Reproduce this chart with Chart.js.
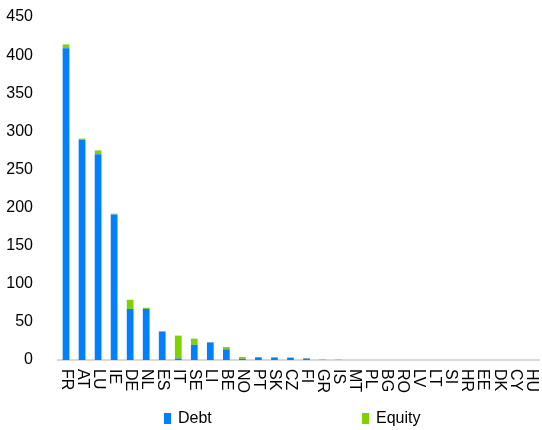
<!DOCTYPE html>
<html>
<head>
<meta charset="utf-8">
<script src="https://cdn.jsdelivr.net/npm/chart.js@4"></script>
<style>
  html, body { margin: 0; padding: 0; background: #fff; }
  #wrap { width: 542px; height: 430px; position: relative; }
</style>
</head>
<body>
<div id="wrap"><canvas id="myChart"></canvas></div>
<script>
// Data
var countries = ['FR', 'AT', 'LU', 'IE', 'DE', 'NL', 'ES', 'IT', 'SE', 'LI', 'BE', 'NO', 'PT', 'SK', 'CZ',
  'FI', 'GR', 'IS', 'MT', 'PL', 'BG', 'RO', 'LV', 'LT', 'SI', 'HR', 'EE', 'DK', 'CY', 'HU'];
var debt = [409, 289, 270, 191, 67, 67, 37, 2, 20, 23, 14, 1.5, 3.5, 3.3, 3, 2, 0.3, 0.2, 0, 0, 0, 0, 0, 0, 0, 0, 0, 0, 0, 0];
var equity = [5, 1.5, 5, 1, 12, 1.5, 1, 30, 8, 0.5, 3, 2.5, 0.4, 0.3, 0.3, 0.5, 0.2, 0.2, 0, 0, 0, 0, 0, 0, 0, 0, 0, 0, 0, 0];
var seriesNames = ['Debt', 'Equity'];
var seriesColors = ['#0080ff', '#7fd100'];

var font = 'Liberation Sans, Arial, sans-serif';

// x labels read top to bottom (rotated clockwise), so draw them ourselves
var xLabels = {
  id: 'xLabels',
  afterDraw: function (chart) {
    var ctx = chart.ctx;
    var xs = chart.scales.x;
    ctx.save();
    ctx.font = '16px ' + font;
    ctx.fillStyle = '#000';
    ctx.textAlign = 'left';
    ctx.textBaseline = 'middle';
    countries.forEach(function (c, i) {
      ctx.save();
      ctx.translate(xs.getPixelForValue(i), xs.top + 9);
      ctx.rotate(Math.PI / 2);
      ctx.fillText(c, 0, 0);
      ctx.restore();
    });
    ctx.restore();
  }
};

// legend spread wide at the bottom
var wideLegend = {
  id: 'wideLegend',
  afterDraw: function (chart) {
    var ctx = chart.ctx;
    var starts = [164, 362];
    var y = 418;
    ctx.save();
    ctx.font = '16px ' + font;
    ctx.textBaseline = 'middle';
    ctx.textAlign = 'left';
    seriesNames.forEach(function (name, i) {
      ctx.fillStyle = seriesColors[i];
      ctx.fillRect(starts[i], y - 5, 7, 11);
      ctx.fillStyle = '#000';
      ctx.fillText(name, starts[i] + 14, y + 1);
    });
    ctx.restore();
  }
};

var ctx = document.getElementById('myChart').getContext('2d');

var myChart = new Chart(ctx, {
  type: 'bar',
  data: {
    labels: countries,
    datasets: [{
      label: seriesNames[0],
      data: debt,
      backgroundColor: seriesColors[0]
    }, {
      label: seriesNames[1],
      data: equity,
      backgroundColor: seriesColors[1]
    }]
  },
  options: {
    responsive: true,
    maintainAspectRatio: false,
    animation: false,
    layout: { padding: { top: 17, right: 3, bottom: 20, left: 0 } },
    datasets: {
      bar: { categoryPercentage: 1, barPercentage: 0.42 }
    },
    plugins: {
      legend: { display: false },
      tooltip: { enabled: false }
    },
    scales: {
      x: {
        stacked: true,
        grid: { display: false },
        border: { color: '#d9d9d9', width: 2 },
        ticks: { display: false },
        afterFit: function (s) { s.height = 50; }
      },
      y: {
        stacked: true,
        min: 0,
        max: 450,
        grid: { display: false },
        border: { display: false },
        ticks: {
          stepSize: 50,
          padding: 17,
          color: '#000',
          font: { family: font, size: 16 }
        },
        afterFit: function (s) {
          s.width = 58;
          s.paddingTop = 0;
          s.paddingBottom = 0;
        }
      }
    }
  },
  plugins: [xLabels, wideLegend]
});
</script>
</body>
</html>
